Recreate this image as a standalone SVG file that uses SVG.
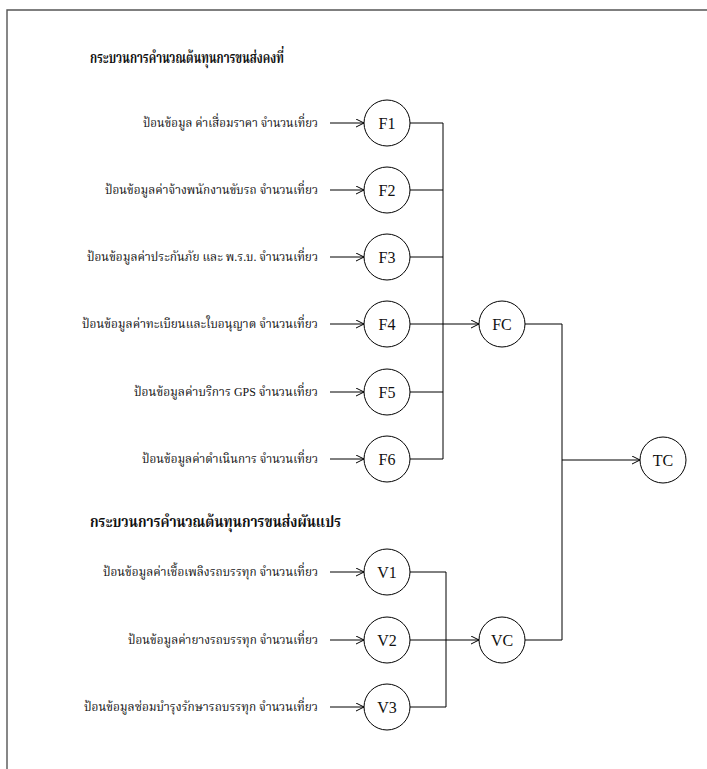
<svg xmlns="http://www.w3.org/2000/svg" width="707" height="769" viewBox="0 0 707 769">
  <style>
    .frame { stroke: #555; stroke-width: 1.4; fill: none; }
    .node circle { fill: #fff; stroke: #000; stroke-width: 1; }
    .node text { font-family: "Liberation Serif", "Times New Roman", serif; font-size: 16px; text-anchor: middle; dominant-baseline: central; fill: #111; }
    .lbl { font-family: "Liberation Serif", "Noto Serif Thai", "Noto Sans Thai", "DejaVu Sans", serif; font-size: 13px; text-anchor: end; fill: #111; }
    .title { font-family: "Liberation Serif", "Noto Serif Thai", "Noto Sans Thai", "DejaVu Sans", serif; font-size: 16px; font-weight: bold; fill: #111; }
    .wire { stroke: #000; stroke-width: 1; fill: none; }
    .arrow { stroke: #000; stroke-width: 1; fill: none; marker-end: url(#head); }
  </style>
  <defs>
    <marker id="head" markerUnits="userSpaceOnUse" markerWidth="10" markerHeight="10" refX="8" refY="4" orient="auto">
      <path d="M0,0 L8,4 L0,8" fill="none" stroke="#000" stroke-width="1"/>
    </marker>
  </defs>

  <rect width="707" height="769" fill="#fff"/>

  <!-- page frame -->
  <path class="frame" d="M7,769 V10 H707"/>

  <!-- section headings -->
  <text class="title" x="90" y="63" textLength="194" lengthAdjust="spacingAndGlyphs">กระบวนการคำนวณต้นทุนการขนส่งคงที่</text>
  <text class="title" x="90" y="527" textLength="251" lengthAdjust="spacingAndGlyphs">กระบวนการคำนวณต้นทุนการขนส่งผันแปร</text>

  <!-- input labels -->
  <g id="labels">
    <text class="lbl" x="318" y="127" textLength="175" lengthAdjust="spacingAndGlyphs">ป้อนข้อมูล ค่าเสื่อมราคา จำนวนเที่ยว</text>
    <text class="lbl" x="318" y="194" textLength="213" lengthAdjust="spacingAndGlyphs">ป้อนข้อมูลค่าจ้างพนักงานขับรถ จำนวนเที่ยว</text>
    <text class="lbl" x="318" y="261" textLength="231" lengthAdjust="spacingAndGlyphs">ป้อนข้อมูลค่าประกันภัย และ พ.ร.บ. จำนวนเที่ยว</text>
    <text class="lbl" x="318" y="328" textLength="236" lengthAdjust="spacingAndGlyphs">ป้อนข้อมูลค่าทะเบียนและใบอนุญาต จำนวนเที่ยว</text>
    <text class="lbl" x="318" y="396" textLength="184" lengthAdjust="spacingAndGlyphs">ป้อนข้อมูลค่าบริการ GPS จำนวนเที่ยว</text>
    <text class="lbl" x="318" y="463" textLength="176" lengthAdjust="spacingAndGlyphs">ป้อนข้อมูลค่าดำเนินการ จำนวนเที่ยว</text>
    <text class="lbl" x="318" y="576" textLength="215" lengthAdjust="spacingAndGlyphs">ป้อนข้อมูลค่าเชื้อเพลิงรถบรรทุก จำนวนเที่ยว</text>
    <text class="lbl" x="318" y="644" textLength="190" lengthAdjust="spacingAndGlyphs">ป้อนข้อมูลค่ายางรถบรรทุก จำนวนเที่ยว</text>
    <text class="lbl" x="318" y="711" textLength="234" lengthAdjust="spacingAndGlyphs">ป้อนข้อมูลซ่อมบำรุงรักษารถบรรทุก จำนวนเที่ยว</text>
  </g>

  <!-- connectors -->
  <g id="connectors">
    <line class="arrow" x1="330" y1="123" x2="364" y2="123"/>
    <line class="arrow" x1="330" y1="190" x2="364" y2="190"/>
    <line class="arrow" x1="330" y1="257" x2="364" y2="257"/>
    <line class="arrow" x1="330" y1="324" x2="364" y2="324"/>
    <line class="arrow" x1="330" y1="392" x2="364" y2="392"/>
    <line class="arrow" x1="330" y1="459" x2="364" y2="459"/>
    <line class="arrow" x1="330" y1="572" x2="364" y2="572"/>
    <line class="arrow" x1="330" y1="640" x2="364" y2="640"/>
    <line class="arrow" x1="330" y1="707" x2="364" y2="707"/>

    <!-- fixed-cost bus -->
    <path class="wire" d="M410,123 H443 V459 H410"/>
    <path class="wire" d="M410,190 H443"/>
    <path class="wire" d="M410,257 H443"/>
    <path class="wire" d="M410,392 H443"/>
    <line class="arrow" x1="410" y1="324" x2="479" y2="324"/>

    <!-- variable-cost bus -->
    <path class="wire" d="M410,572 H446 V707 H410"/>
    <line class="arrow" x1="410" y1="640" x2="479" y2="640"/>

    <!-- totals -->
    <path class="wire" d="M525,324 H562 V640 H525"/>
    <line class="arrow" x1="562" y1="460" x2="640" y2="460"/>
  </g>

  <!-- nodes -->
  <g id="F1" class="node"><circle cx="387" cy="123" r="23"/><text x="387" y="123">F1</text></g>
  <g id="F2" class="node"><circle cx="387" cy="190" r="23"/><text x="387" y="190">F2</text></g>
  <g id="F3" class="node"><circle cx="387" cy="257" r="23"/><text x="387" y="257">F3</text></g>
  <g id="F4" class="node"><circle cx="387" cy="324" r="23"/><text x="387" y="324">F4</text></g>
  <g id="F5" class="node"><circle cx="387" cy="392" r="23"/><text x="387" y="392">F5</text></g>
  <g id="F6" class="node"><circle cx="387" cy="459" r="23"/><text x="387" y="459">F6</text></g>
  <g id="V1" class="node"><circle cx="387" cy="572" r="23"/><text x="387" y="572">V1</text></g>
  <g id="V2" class="node"><circle cx="387" cy="640" r="23"/><text x="387" y="640">V2</text></g>
  <g id="V3" class="node"><circle cx="387" cy="707" r="23"/><text x="387" y="707">V3</text></g>
  <g id="FC" class="node"><circle cx="502" cy="324" r="23"/><text x="502" y="324">FC</text></g>
  <g id="VC" class="node"><circle cx="502" cy="640" r="23"/><text x="502" y="640">VC</text></g>
  <g id="TC" class="node"><circle cx="663" cy="460" r="23"/><text x="663" y="460">TC</text></g>
</svg>
